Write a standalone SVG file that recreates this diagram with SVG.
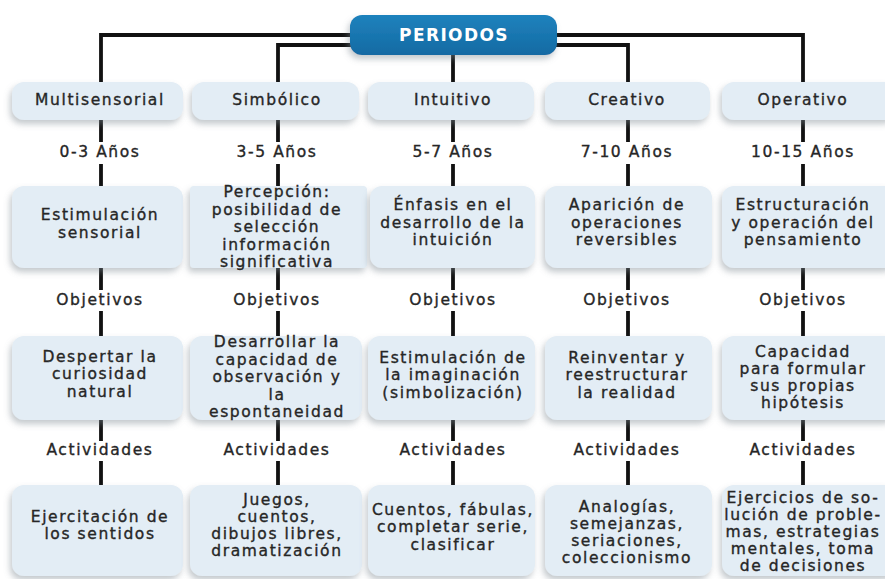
<svg xmlns="http://www.w3.org/2000/svg" width="885" height="579" viewBox="0 0 885 579">
<defs>
<filter id="sh" x="-20%" y="-20%" width="140%" height="150%">
<feDropShadow dx="-2" dy="4" stdDeviation="3" flood-color="#7d8790" flood-opacity="0.45"/>
</filter>
<linearGradient id="hg" x1="0" y1="0" x2="0" y2="1">
<stop offset="0" stop-color="#1f82bd"/>
<stop offset="1" stop-color="#136aa3"/>
</linearGradient>
</defs>
<style>
.box{fill:#e3edf5;filter:url(#sh)}
.t{font-family:"DejaVu Sans",Verdana,sans-serif;font-size:15.5px;fill:#262626;text-anchor:middle;letter-spacing:1.6px;stroke:#262626;stroke-width:0.35px}
.h{font-family:"DejaVu Sans",Verdana,sans-serif;font-size:17px;font-weight:bold;fill:#ffffff;text-anchor:middle;letter-spacing:1.4px}
.c{fill:none;stroke:#111;stroke-width:3.8}
</style>
<rect width="885" height="579" fill="#ffffff"/>
<g id="connectors">
<path class="c" d="M352 35 H101 V82"/>
<path class="c" d="M352 45 H278 V82"/>
<path class="c" d="M553 35 H803 V82"/>
<path class="c" d="M553 45 H628 V82"/>
<path class="c" d="M453 55 V82"/>
<path class="c" d="M101 120 V142 M101 164 V186 M101 268 V290 M101 311 V336 M101 420 V441 M101 461 V485"/>
<path class="c" d="M278 120 V142 M278 164 V186 M278 268 V290 M278 311 V336 M278 420 V441 M278 461 V485"/>
<path class="c" d="M453 120 V142 M453 164 V186 M453 268 V290 M453 311 V336 M453 420 V441 M453 461 V485"/>
<path class="c" d="M628 120 V142 M628 164 V186 M628 268 V290 M628 311 V336 M628 420 V441 M628 461 V485"/>
<path class="c" d="M803 120 V142 M803 164 V186 M803 268 V290 M803 311 V336 M803 420 V441 M803 461 V485"/>
</g>
<g id="periodos">
<rect x="350" y="15" width="207" height="40" rx="12" fill="url(#hg)" filter="url(#sh)"/>
<text class="h" x="454" y="41">PERIODOS</text>
</g>
<g id="multisensorial">
<rect class="box" x="12" y="82" width="171" height="38" rx="12"/>
<text class="t" x="100" y="105">Multisensorial</text>
<text class="t" x="100" y="157">0-3 Años</text>
<rect class="box" x="12" y="186" width="171" height="82" rx="12"/>
<text class="t" x="100" y="220">Estimulación</text>
<text class="t" x="100" y="238">sensorial</text>
<text class="t" x="100" y="305">Objetivos</text>
<rect class="box" x="12" y="336" width="171" height="84" rx="12"/>
<text class="t" x="100" y="362">Despertar la</text>
<text class="t" x="100" y="379">curiosidad</text>
<text class="t" x="100" y="397">natural</text>
<text class="t" x="100" y="455">Actividades</text>
<rect class="box" x="12" y="485" width="171" height="91" rx="12"/>
<text class="t" x="100" y="522">Ejercitación de</text>
<text class="t" x="100" y="539">los sentidos</text>
</g>
<g id="simbolico">
<rect class="box" x="192" y="82" width="167" height="38" rx="12"/>
<text class="t" x="277" y="105">Simbólico</text>
<text class="t" x="277" y="157">3-5 Años</text>
<rect class="box" x="190" y="186" width="177" height="82" rx="4"/>
<text class="t" x="277" y="197">Percepción:</text>
<text class="t" x="277" y="215">posibilidad de</text>
<text class="t" x="277" y="232">selección</text>
<text class="t" x="277" y="250">información</text>
<text class="t" x="277" y="267">significativa</text>
<text class="t" x="277" y="305">Objetivos</text>
<rect class="box" x="190" y="336" width="172" height="84" rx="12"/>
<text class="t" x="277" y="347">Desarrollar la</text>
<text class="t" x="277" y="365">capacidad de</text>
<text class="t" x="277" y="382">observación y</text>
<text class="t" x="277" y="400">la</text>
<text class="t" x="277" y="417">espontaneidad</text>
<text class="t" x="277" y="455">Actividades</text>
<rect class="box" x="190" y="485" width="172" height="91" rx="12"/>
<text class="t" x="277" y="505">Juegos,</text>
<text class="t" x="277" y="522">cuentos,</text>
<text class="t" x="277" y="539">dibujos libres,</text>
<text class="t" x="277" y="556">dramatización</text>
</g>
<g id="intuitivo">
<rect class="box" x="368" y="82" width="166" height="38" rx="12"/>
<text class="t" x="453" y="105">Intuitivo</text>
<text class="t" x="453" y="157">5-7 Años</text>
<rect class="box" x="370" y="186" width="165" height="82" rx="12"/>
<text class="t" x="453" y="210">Énfasis en el</text>
<text class="t" x="453" y="228">desarrollo de la</text>
<text class="t" x="453" y="245">intuición</text>
<text class="t" x="453" y="305">Objetivos</text>
<rect class="box" x="368" y="336" width="167" height="84" rx="12"/>
<text class="t" x="453" y="363">Estimulación de</text>
<text class="t" x="453" y="380">la imaginación</text>
<text class="t" x="453" y="398">(simbolización)</text>
<text class="t" x="453" y="455">Actividades</text>
<rect class="box" x="368" y="485" width="167" height="91" rx="12"/>
<text class="t" x="453" y="515">Cuentos, fábulas,</text>
<text class="t" x="453" y="532">completar serie,</text>
<text class="t" x="453" y="550">clasificar</text>
</g>
<g id="creativo">
<rect class="box" x="545" y="82" width="165" height="38" rx="12"/>
<text class="t" x="627" y="105">Creativo</text>
<text class="t" x="627" y="157">7-10 Años</text>
<rect class="box" x="545" y="186" width="167" height="82" rx="12"/>
<text class="t" x="627" y="210">Aparición de</text>
<text class="t" x="627" y="228">operaciones</text>
<text class="t" x="627" y="245">reversibles</text>
<text class="t" x="627" y="305">Objetivos</text>
<rect class="box" x="545" y="336" width="167" height="84" rx="12"/>
<text class="t" x="627" y="363">Reinventar y</text>
<text class="t" x="627" y="380">reestructurar</text>
<text class="t" x="627" y="398">la realidad</text>
<text class="t" x="627" y="455">Actividades</text>
<rect class="box" x="545" y="485" width="167" height="91" rx="12"/>
<text class="t" x="627" y="512">Analogías,</text>
<text class="t" x="627" y="529">semejanzas,</text>
<text class="t" x="627" y="546">seriaciones,</text>
<text class="t" x="627" y="563">coleccionismo</text>
</g>
<g id="operativo">
<rect class="box" x="722" y="82" width="175" height="38" rx="12"/>
<text class="t" x="803" y="105">Operativo</text>
<text class="t" x="803" y="157">10-15 Años</text>
<rect class="box" x="722" y="186" width="175" height="82" rx="12"/>
<text class="t" x="803" y="210">Estructuración</text>
<text class="t" x="803" y="228">y operación del</text>
<text class="t" x="803" y="245">pensamiento</text>
<text class="t" x="803" y="305">Objetivos</text>
<rect class="box" x="722" y="336" width="175" height="84" rx="12"/>
<text class="t" x="803" y="357">Capacidad</text>
<text class="t" x="803" y="374">para formular</text>
<text class="t" x="803" y="391">sus propias</text>
<text class="t" x="803" y="408">hipótesis</text>
<text class="t" x="803" y="455">Actividades</text>
<rect class="box" x="722" y="485" width="175" height="91" rx="12"/>
<text class="t" x="803" y="503">Ejercicios de so-</text>
<text class="t" x="803" y="520">lución de proble-</text>
<text class="t" x="803" y="537">mas, estrategias</text>
<text class="t" x="803" y="554">mentales, toma</text>
<text class="t" x="803" y="571">de decisiones</text>
</g>
</svg>
